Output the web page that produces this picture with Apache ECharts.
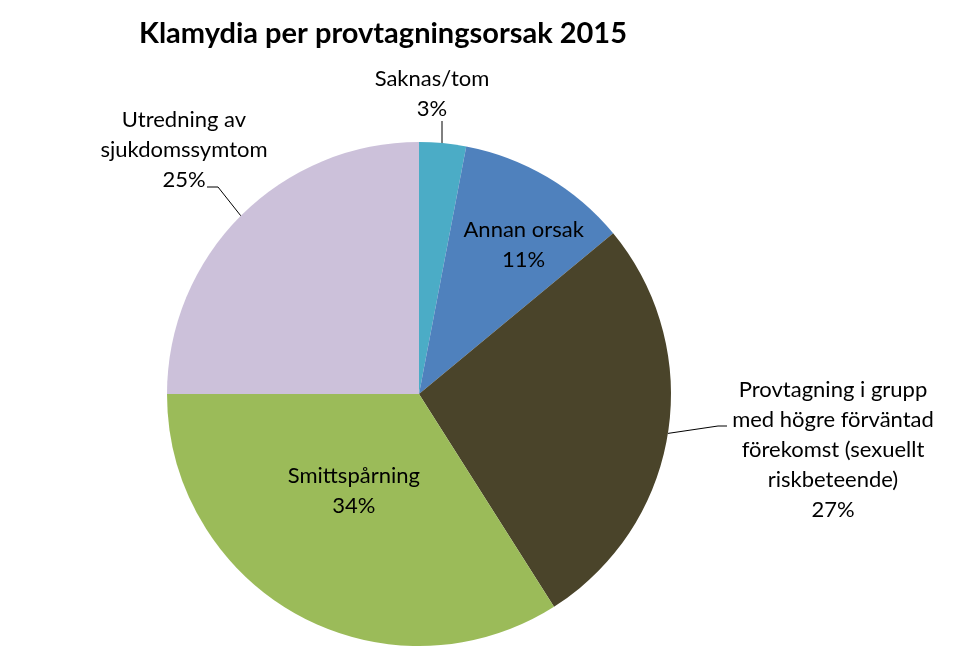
<!DOCTYPE html>
<html>
<head>
<meta charset="utf-8">
<script src="https://cdn.jsdelivr.net/npm/echarts@6/dist/echarts.min.js"></script>
<style>html,body{margin:0;padding:0;background:#fff}#c{width:960px;height:660px}</style>
</head>
<body>
<div id="c"></div>
<script>
const titleText = 'Klamydia per provtagningsorsak 2015';
const categories = [
  'Saknas/tom',
  'Annan orsak',
  'Provtagning i grupp\nmed högre förväntad\nförekomst (sexuellt\nriskbeteende)',
  'Smittspårning',
  'Utredning av\nsjukdomssymtom'
];
const percents = [3, 11, 27, 34, 25];
const colors = ['#4BACC6', '#4F81BD', '#4A442A', '#9BBB59', '#CCC1DA'];
const labelInside = [false, true, false, true, false];

const FONT = 'Lato';
const chart = echarts.init(document.getElementById('c'), null, {renderer: 'canvas'});

const data = categories.map((n, i) => ({
  name: n,
  value: percents[i],
  itemStyle: {color: colors[i]},
  label: {position: labelInside[i] ? 'inside' : 'outside'},
  labelLine: {show: !labelInside[i]}
}));

chart.setOption({
  backgroundColor: '#fff',
  animation: false,
  title: {
    text: titleText,
    left: 134,
    top: 14,
    textStyle: {fontFamily: FONT, fontWeight: 'bold', fontSize: 29, color: '#000'}
  },
  series: [{
    type: 'pie',
    center: [419, 394],
    radius: 252,
    startAngle: 90,
    clockwise: true,
    avoidLabelOverlap: false,
    silent: true,
    data: data,
    label: {
      show: true,
      formatter: p => p.name + '\n' + p.value + '%',
      fontFamily: FONT,
      fontSize: 22,
      lineHeight: 30,
      color: '#000',
      align: 'center',
      overflow: 'none'
    },
    labelLine: {
      show: true,
      length: 20,
      length2: 8,
      lineStyle: {color: '#000', width: 1}
    },
    labelLayout: function (p) {
      const a = p.labelLinePoints ? p.labelLinePoints[0] : null;
      switch (p.dataIndex) {
        case 0:
          return {x: 432, y: 94, align: 'center', verticalAlign: 'middle',
                  labelLinePoints: [[442, 148], [442, 121], [442, 121]]};
        case 1:
          return {dx: 39, dy: -38};
        case 2:
          return {x: 833, y: 450, align: 'center', verticalAlign: 'middle',
                  labelLinePoints: [[a ? a[0] : 668, a ? a[1] : 436], [718, 426], [727, 426]]};
        case 3:
          return {dx: -3, dy: -16};
        case 4:
          return {x: 184, y: 150, align: 'center', verticalAlign: 'middle',
                  labelLinePoints: [[a ? a[0] : 241, a ? a[1] : 216], [218, 187], [207, 187]]};
      }
    }
  }]
});
</script>
</body>
</html>
